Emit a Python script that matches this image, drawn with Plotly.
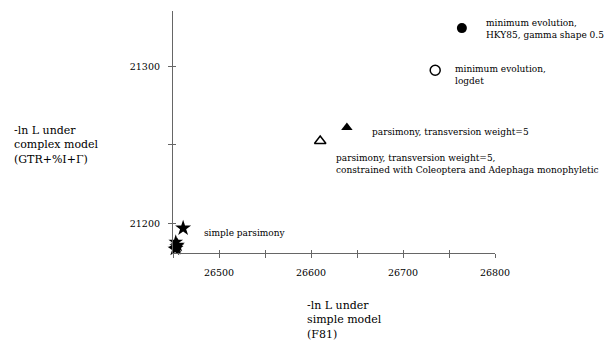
import plotly.graph_objects as go

# ---- data ----
labels = [
    "minimum evolution,<br>HKY85, gamma shape 0.5",
    "minimum evolution,<br>logdet",
    "parsimony, transversion weight=5",
    "parsimony, transversion weight=5,<br>constrained with Coleoptera and Adephaga monophyletic",
    "simple parsimony",
]
simple_lnL = [26764, 26735, 26639, 26610, 26461]
complex_lnL = [21324.4, 21297.5, 21261, 21252.4, 21196.8]
symbols = ["circle", "circle-open", "triangle-up", "triangle-up-open", "star"]

# cluster of other simple-parsimony trees near origin
cluster_simple = [26453, 26454, 26452, 26455, 26453.5]
cluster_complex = [21188, 21185, 21183.5, 21186, 21184]

x_ticks = [26450, 26500, 26550, 26600, 26650, 26700, 26750, 26800]
x_labels = ["", "26500", "", "26600", "", "26700", "", "26800"]
y_ticks = [21200, 21250, 21300]
y_labels = ["21200", "", "21300"]

X_RANGE = [26450, 26800]
Y_RANGE = [21181, 21335.3]

FONT = "DejaVu Serif"
AX = "#666666"

fig = go.Figure()

fig.add_trace(go.Scatter(
    x=cluster_simple, y=cluster_complex, mode="markers",
    marker=dict(symbol="star", size=11, color="black"),
    cliponaxis=False, showlegend=False, hoverinfo="skip"))

for xv, yv, s in zip(simple_lnL, complex_lnL, symbols):
    open_ = s.endswith("open")
    fig.add_trace(go.Scatter(
        x=[xv], y=[yv], mode="markers",
        marker=dict(symbol=s, size=12 if "star" in s else 10, color="black",
                    line=dict(color="black", width=1.5 if open_ else 0)),
        cliponaxis=False, showlegend=False))

# label offsets (pixels), styles only
offsets = [(22, -1), (18, -5), (23, -4), (14, -23), (19, -5)]
for lab, xv, yv, (dx, dy) in zip(labels, simple_lnL, complex_lnL, offsets):
    fig.add_annotation(x=xv, y=yv, xref="x", yref="y", text=lab,
                       showarrow=False, xanchor="left", yanchor="middle",
                       align="left", xshift=dx, yshift=dy,
                       font=dict(family=FONT, size=9, color="black"))

# second overlay axes for inner half of crossing ticks
fig.add_trace(go.Scatter(x=[None], y=[None], xaxis="x2", yaxis="y2",
                         showlegend=False))

fig.update_layout(
    width=607, height=334,
    margin=dict(l=165, r=120, t=3, b=88.5),
    paper_bgcolor="white", plot_bgcolor="white",
    font=dict(family=FONT, size=9.5, color="black"),
    xaxis=dict(range=X_RANGE, tickvals=x_ticks, ticktext=x_labels,
               ticks="outside", ticklen=4, tickcolor=AX, tickwidth=1,
               showline=True, linecolor=AX, linewidth=1.2,
               showgrid=False, zeroline=False,
               tickfont=dict(family=FONT, size=9.5), ticklabelstandoff=6),
    yaxis=dict(range=Y_RANGE, tickvals=y_ticks, ticktext=y_labels,
               ticks="outside", ticklen=4, tickcolor=AX, tickwidth=1,
               showline=True, linecolor=AX, linewidth=1.2,
               showgrid=False, zeroline=False,
               tickfont=dict(family=FONT, size=9.5), ticklabelstandoff=6),
    xaxis2=dict(range=X_RANGE, overlaying="x", tickvals=x_ticks,
                showticklabels=False, ticks="inside", ticklen=3,
                tickcolor=AX, showgrid=False, zeroline=False, showline=False),
    yaxis2=dict(range=Y_RANGE, overlaying="y", tickvals=y_ticks,
                showticklabels=False, ticks="inside", ticklen=3,
                tickcolor=AX, showgrid=False, zeroline=False, showline=False),
)

# axis titles as paper annotations
fig.add_annotation(xref="paper", yref="paper", x=-0.5, y=0.445,
                   text="-ln L under<br>complex model<br>(GTR+%I+Γ)",
                   showarrow=False, xanchor="left", yanchor="middle",
                   align="left", font=dict(family=FONT, size=11))
fig.add_annotation(xref="paper", yref="paper", x=0.41, y=-0.183,
                   text="-ln L under<br>simple model<br>(F81)",
                   showarrow=False, xanchor="left", yanchor="top",
                   align="left", font=dict(family=FONT, size=11))

fig.write_html("out.html")
